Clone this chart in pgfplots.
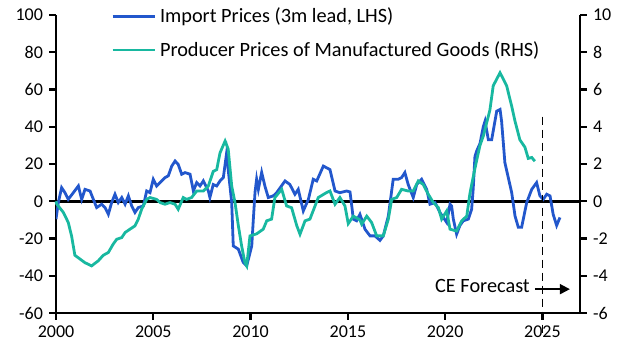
\documentclass[border=0pt]{standalone}
\usepackage{fontspec}
\setmainfont{Carlito}
\usepackage{pgfplots}
\pgfplotsset{compat=1.18}
\usetikzlibrary{arrows.meta}
\definecolor{ceblue}{RGB}{34,87,204}
\definecolor{ceteal}{RGB}{24,184,160}
\begin{document}
\fontsize{17.5}{21}\selectfont
\begin{tikzpicture}
\pgfplotsset{
 common/.style={width=524pt,height=298pt,scale only axis,
   xmin=2000,xmax=2026.93,
   /pgf/number format/assume math mode=true,
   tick style={black,line width=2.2pt},
   tick align=outside, major tick length=7pt,
   axis line style={black,line width=2.8pt},
   tick label style={font=\fontsize{18}{21}\selectfont},
 }
}
\begin{axis}[common,
  axis x line*=bottom, axis y line*=left,
  ymin=-60,ymax=100, ytick={-60,-40,...,100},
  xtick={2000,2005,...,2025},
  xticklabel style={/pgf/number format/1000 sep=},
  legend style={at={(0.105,1.028)},anchor=north west,draw=none,fill=none,
     inner sep=0pt,row sep=14pt,column sep=3pt,
     font=\fontsize{20.3}{23}\selectfont, nodes={inner sep=1pt}},
  legend cell align=left,
  legend image code/.code={\draw[#1,line width=2.8pt] (0pt,0pt) -- (42pt,0pt);},
]
\addplot[black,line width=2.8pt,forget plot] coordinates {(2000,0) (2026.93,0)};
\addplot[ceblue,line width=2.8pt] coordinates {
(2000.00,-9.6) (2000.12,-0.7) (2000.29,7.3) (2000.46,4.6) (2000.63,1) (2000.89,4.6)
(2001.15,8.2) (2001.32,1) (2001.49,6.4) (2001.75,5.5) (2001.92,1) (2002.09,-3.4)
(2002.35,-1.6) (2002.52,-3.4) (2002.69,-7) (2002.86,-0.7) (2003.03,3.75) (2003.20,-0.7)
(2003.38,2) (2003.55,-1.6) (2003.72,2.9) (2003.89,-2.5) (2004.06,-6) (2004.23,-3.4)
(2004.49,-2.5) (2004.66,5.5) (2004.83,4.6) (2005.00,11.8) (2005.17,8.2) (2005.43,10.9)
(2005.60,12.7) (2005.77,13.6) (2005.95,18.9) (2006.12,21.6) (2006.28,19.8) (2006.46,14.5)
(2006.63,15.4) (2006.89,14.5) (2007.06,5.5) (2007.23,10) (2007.40,8.2) (2007.57,10.9)
(2007.83,5.5) (2007.91,2) (2008.08,9) (2008.26,8.2) (2008.43,10.9) (2008.60,12.7)
(2008.77,26) (2008.85,17) (2009.03,-0.7) (2009.11,-24) (2009.37,-25.7) (2009.62,-32.8)
(2009.80,-34.7) (2010.06,-24) (2010.14,-10) (2010.23,5) (2010.31,11.8) (2010.40,6.4)
(2010.57,15.5) (2010.74,8) (2010.91,2) (2011.17,2.9) (2011.34,4.6) (2011.77,10.9)
(2012.02,9) (2012.28,3.75) (2012.45,6.4) (2012.71,-5.2) (2012.97,1) (2013.22,11.8)
(2013.40,10.9) (2013.74,18.9) (2014.08,17) (2014.34,5.5) (2014.59,4.6) (2014.94,5.5)
(2015.11,5) (2015.20,-2.5) (2015.28,-9.6) (2015.45,-10.5) (2015.62,-7) (2015.88,-15)
(2016.14,-18.6) (2016.39,-18.6) (2016.65,-21) (2016.82,-18.6) (2017.08,-7.9) (2017.33,11.8)
(2017.59,11.8) (2017.76,12.7) (2017.93,15.4) (2018.10,9) (2018.36,2) (2018.54,9)
(2018.79,11.8) (2019.05,6.4) (2019.22,-1.6) (2019.48,-0.7) (2019.73,-6) (2020.08,-11.4)
(2020.25,-1.6) (2020.33,-2.5) (2020.42,-9.6) (2020.59,-17.7) (2020.76,-13) (2020.93,-10.5)
(2021.19,-9.6) (2021.36,-4.3) (2021.44,6.4) (2021.53,24) (2021.62,27) (2021.79,31)
(2021.96,40) (2022.05,43) (2022.22,33) (2022.39,33) (2022.65,48.4) (2022.82,49.3)
(2022.90,43) (2023.07,20.7) (2023.42,4.6) (2023.59,-7.9) (2023.76,-14) (2023.93,-14)
(2024.19,-0.7) (2024.45,6.4) (2024.70,10) (2024.87,2.9) (2025.04,1) (2025.22,3.75)
(2025.39,2.9) (2025.55,-7) (2025.73,-13) (2025.90,-8.7)
};
\addlegendentry{Import Prices (3m lead, LHS)}
\addlegendimage{ceteal,line width=2.8pt}
\addlegendentry{Producer Prices of Manufactured Goods (RHS)}
\end{axis}
\begin{axis}[common,
  axis x line=none, axis y line*=right,
  ymin=-6,ymax=10, ytick={-6,-4,...,10},
  clip=false,
]
\addplot[ceteal,line width=2.8pt] coordinates {
(2000.00,0) (2000.04,-0.16) (2000.38,-0.6) (2000.63,-1.14) (2000.80,-1.86) (2000.97,-2.9)
(2001.23,-3.1) (2001.49,-3.3) (2001.83,-3.47) (2002.17,-3.2) (2002.43,-2.9) (2002.69,-2.75)
(2002.94,-2.3) (2003.12,-2.04) (2003.38,-1.95) (2003.55,-1.68) (2003.80,-1.5) (2004.06,-1.32)
(2004.23,-0.96) (2004.40,-0.43) (2004.66,0.1) (2004.83,0.2) (2005.17,0.1) (2005.35,-0.07)
(2005.60,-0.16) (2005.86,-0.07) (2006.12,-0.16) (2006.28,-0.43) (2006.54,0.2) (2006.71,0.1)
(2006.97,0.2) (2007.23,0.55) (2007.57,0.55) (2007.83,0.82) (2008.08,1.6) (2008.26,1.7)
(2008.43,2.6) (2008.69,3.23) (2008.85,2.8) (2009.03,0.82) (2009.20,-0.07) (2009.37,-1.3)
(2009.54,-2.4) (2009.71,-3.3) (2009.80,-3.47) (2009.97,-1.86) (2010.31,-1.75) (2010.65,-1.5)
(2010.83,-1.05) (2011.08,-0.96) (2011.25,0.2) (2011.60,0.64) (2011.85,-0.25) (2012.11,-0.35)
(2012.37,-1.3) (2012.54,-1.77) (2012.80,-1.05) (2013.05,-0.96) (2013.48,0.2) (2013.91,0.47)
(2014.08,0.55) (2014.34,-0.16) (2014.59,0.2) (2014.85,-0.25) (2015.02,-1.2) (2015.28,-0.8)
(2015.62,-1.0) (2015.71,-1.23) (2015.97,-0.8) (2016.22,-1.14) (2016.48,-1.86) (2016.82,-1.86)
(2017.08,-0.96) (2017.25,0.1) (2017.51,0.2) (2017.76,0.64) (2018.10,0.55) (2018.36,0.55)
(2018.62,1.09) (2018.87,0.9) (2019.13,0.38) (2019.39,-0.07) (2019.65,-0.34) (2019.82,-0.96)
(2020.08,-0.52) (2020.25,-1.5) (2020.59,-1.6) (2020.85,-1.05) (2021.11,-0.8) (2021.27,0.4)
(2021.44,1.3) (2021.62,2.2) (2021.79,3.0) (2021.96,3.5) (2022.30,4.9) (2022.47,6.2)
(2022.82,6.9) (2023.16,6.2) (2023.42,5.1) (2023.59,4.3) (2023.84,3.3) (2024.10,2.9)
(2024.27,2.3) (2024.45,2.35) (2024.61,2.15)
};
\draw[black,line width=1.8pt,dash pattern=on 8pt off 5pt] (axis cs:2025,4.55) -- (axis cs:2025,-7.1);
\node[anchor=east,inner sep=0pt,font=\fontsize{20.3}{23}\selectfont] at (axis cs:2024.36,-4.55) {CE Forecast};
\draw[black,line width=1.8pt,-{Triangle[length=10pt,width=10pt]}] (axis cs:2024.61,-4.72) -- (axis cs:2026.41,-4.72);
\end{axis}
\pgfresetboundingbox
\path[use as bounding box] (-56pt,-40pt) rectangle (571pt,313pt);
\end{tikzpicture}
\end{document}
